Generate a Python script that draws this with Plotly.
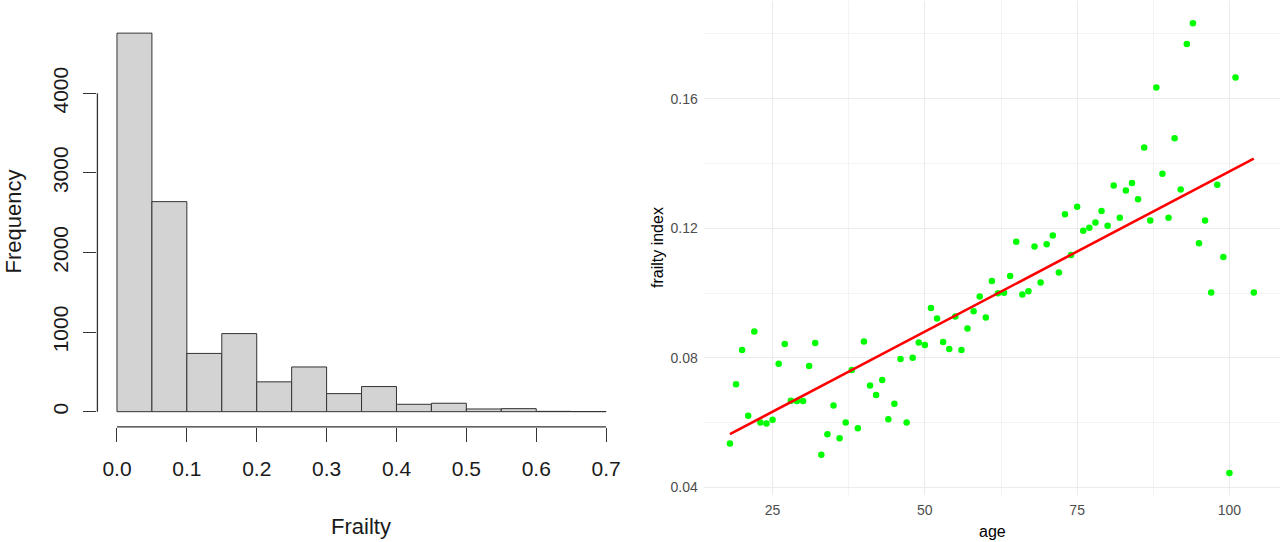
import numpy as np
import plotly.graph_objects as go

# Left panel: histogram of frailty (bin edges + counts)
bin_edges = [0.0, 0.05, 0.1, 0.15, 0.2, 0.25, 0.3, 0.35, 0.4, 0.45, 0.5, 0.55, 0.6, 0.65, 0.7]
counts = [4756, 2639, 732, 981, 375, 562, 227, 316, 93, 106, 34, 38, 4, 2]
hist_xticks = [0.0, 0.1, 0.2, 0.3, 0.4, 0.5, 0.6, 0.7]
hist_yticks = [0, 1000, 2000, 3000, 4000]

# Right panel: mean frailty index by age
ages = list(range(18, 102)) + [104]
frailty = [
    0.0536, 0.0719, 0.0825, 0.0622, 0.0882, 0.0601, 0.0598, 0.0609, 0.0782, 0.0843,
    0.0668, 0.0667, 0.0667, 0.0775, 0.0846, 0.0501, 0.0565, 0.0653, 0.0552, 0.0601,
    0.0763, 0.0583, 0.0851, 0.0715, 0.0686, 0.0732, 0.0611, 0.0659, 0.0797, 0.0601,
    0.0801, 0.0848, 0.0840, 0.0954, 0.0922, 0.0849, 0.0828, 0.0928, 0.0825, 0.0891,
    0.0944, 0.0990, 0.0925, 0.1038, 0.1000, 0.1001, 0.1053, 0.1159, 0.0996, 0.1006,
    0.1144, 0.1033, 0.1151, 0.1178, 0.1064, 0.1244, 0.1118, 0.1267, 0.1193, 0.1202,
    0.1218, 0.1254, 0.1208, 0.1332, 0.1233, 0.1317, 0.1340, 0.1290, 0.1450, 0.1224,
    0.1635, 0.1369, 0.1233, 0.1478, 0.1320, 0.1769, 0.1833, 0.1154, 0.1224, 0.1002,
    0.1335, 0.1112, 0.0445, 0.1666, 0.1002,
]
scatter_xticks = [25, 50, 75, 100]
scatter_yticks = [0.04, 0.08, 0.12, 0.16]

FONT = "Liberation Sans, Arial, sans-serif"

fig = go.Figure()

# histogram bars
edges = np.array(bin_edges)
centers = (edges[:-1] + edges[1:]) / 2
fig.add_trace(go.Bar(
    x=centers, y=counts, width=np.diff(edges),
    marker=dict(color="#d3d3d3", line=dict(color="#333333", width=1)),
    xaxis="x", yaxis="y", showlegend=False,
))

# scatter + lm line
fig.add_trace(go.Scatter(
    x=ages, y=frailty, mode="markers", cliponaxis=False,
    marker=dict(color="#00ff00", size=6.5),
    xaxis="x2", yaxis="y2", showlegend=False,
))
slope, icpt = np.polyfit(ages, frailty, 1)
xl = np.array([min(ages), max(ages)])
fig.add_trace(go.Scatter(
    x=xl, y=icpt + slope * xl, mode="lines",
    line=dict(color="#ff0000", width=2.6),
    xaxis="x2", yaxis="y2", showlegend=False,
))

# R-style padding (4%) and ggplot padding (5%)
xr = [bin_edges[0] - 0.04 * (bin_edges[-1] - bin_edges[0]), bin_edges[-1] + 0.04 * (bin_edges[-1] - bin_edges[0])]
yr = [-0.04 * max(counts), 1.04 * max(counts)]
ax = max(ages) - min(ages)
fy = max(frailty) - min(frailty)
xr2 = [min(ages) - 0.05 * ax, max(ages) + 0.05 * ax]
yr2 = [min(frailty) - 0.05 * fy, max(frailty) + 0.05 * fy]

fig.update_layout(
    width=1280, height=542,
    margin=dict(l=0, r=0, t=0, b=0),
    paper_bgcolor="white", plot_bgcolor="white",
    font=dict(family=FONT, color="#1a1a1a"),
    xaxis=dict(
        domain=[0.0761, 0.4888], range=xr, tickvals=hist_xticks,
        ticktext=["%.1f" % v for v in hist_xticks],
        showgrid=False, zeroline=False, showline=False,
        ticks="outside", ticklen=14, tickcolor="#333333", tickwidth=1.3,
        tickfont=dict(size=21, color="#1a1a1a"), ticklabelstandoff=9,
    ),
    yaxis=dict(
        domain=[0.2125, 0.9668], range=yr, tickvals=hist_yticks,
        showgrid=False, zeroline=False, showline=False,
        ticks="outside", ticklen=13, tickcolor="#333333", tickwidth=1.3,
        tickangle=-90, tickfont=dict(size=21, color="#1a1a1a"), ticklabelstandoff=7,
    ),
    xaxis2=dict(
        domain=[0.5498, 1.0], range=xr2, anchor="y2",
        tickvals=scatter_xticks, showgrid=True, gridcolor="#ebebeb", gridwidth=1.1,
        minor=dict(dtick=12.5, tick0=0, showgrid=True, gridcolor="#f3f3f3", gridwidth=0.8),
        zeroline=False, showline=False, ticks="",
        tickfont=dict(size=14, color="#4d4d4d"), ticklabelstandoff=5,
    ),
    yaxis2=dict(
        domain=[0.0858, 0.9985], range=yr2, anchor="x2",
        tickvals=scatter_yticks, tickformat=".2f", showgrid=True, gridcolor="#ebebeb", gridwidth=1.1,
        minor=dict(dtick=0.02, tick0=0, showgrid=True, gridcolor="#f3f3f3", gridwidth=0.8),
        zeroline=False, showline=False, ticks="",
        tickfont=dict(size=14, color="#4d4d4d"), ticklabelstandoff=5,
    ),
    shapes=[
        # R draws axis lines only between the first and last tick
        dict(type="line", xref="x domain", yref="y", x0=0, x1=0,
             y0=hist_yticks[0], y1=hist_yticks[-1], line=dict(color="#333333", width=1.3)),
        dict(type="line", xref="x", yref="y domain", y0=0, y1=0,
             x0=hist_xticks[0], x1=hist_xticks[-1], line=dict(color="#333333", width=1.3)),
    ],
    annotations=[
        dict(text="Frequency", xref="paper", yref="paper", x=12.5 / 1280, y=1 - 222 / 542,
             xanchor="center", yanchor="middle",
             textangle=-90, showarrow=False, font=dict(size=22, color="#1a1a1a")),
        dict(text="Frailty", xref="paper", yref="paper", x=361 / 1280, y=1 - 526 / 542,
             xanchor="center", yanchor="middle",
             showarrow=False, font=dict(size=22, color="#1a1a1a")),
        dict(text="frailty index", xref="paper", yref="paper", x=657 / 1280, y=1 - 248 / 542,
             xanchor="center", yanchor="middle",
             textangle=-90, showarrow=False, font=dict(size=16, color="#000000")),
        dict(text="age", xref="paper", yref="paper", x=992 / 1280, y=1 - 531 / 542,
             xanchor="center", yanchor="middle",
             showarrow=False, font=dict(size=16, color="#000000")),
    ],
)

fig.write_html("out.html", config={"displayModeBar": False},
               post_script="document.body.style.margin='0';")
